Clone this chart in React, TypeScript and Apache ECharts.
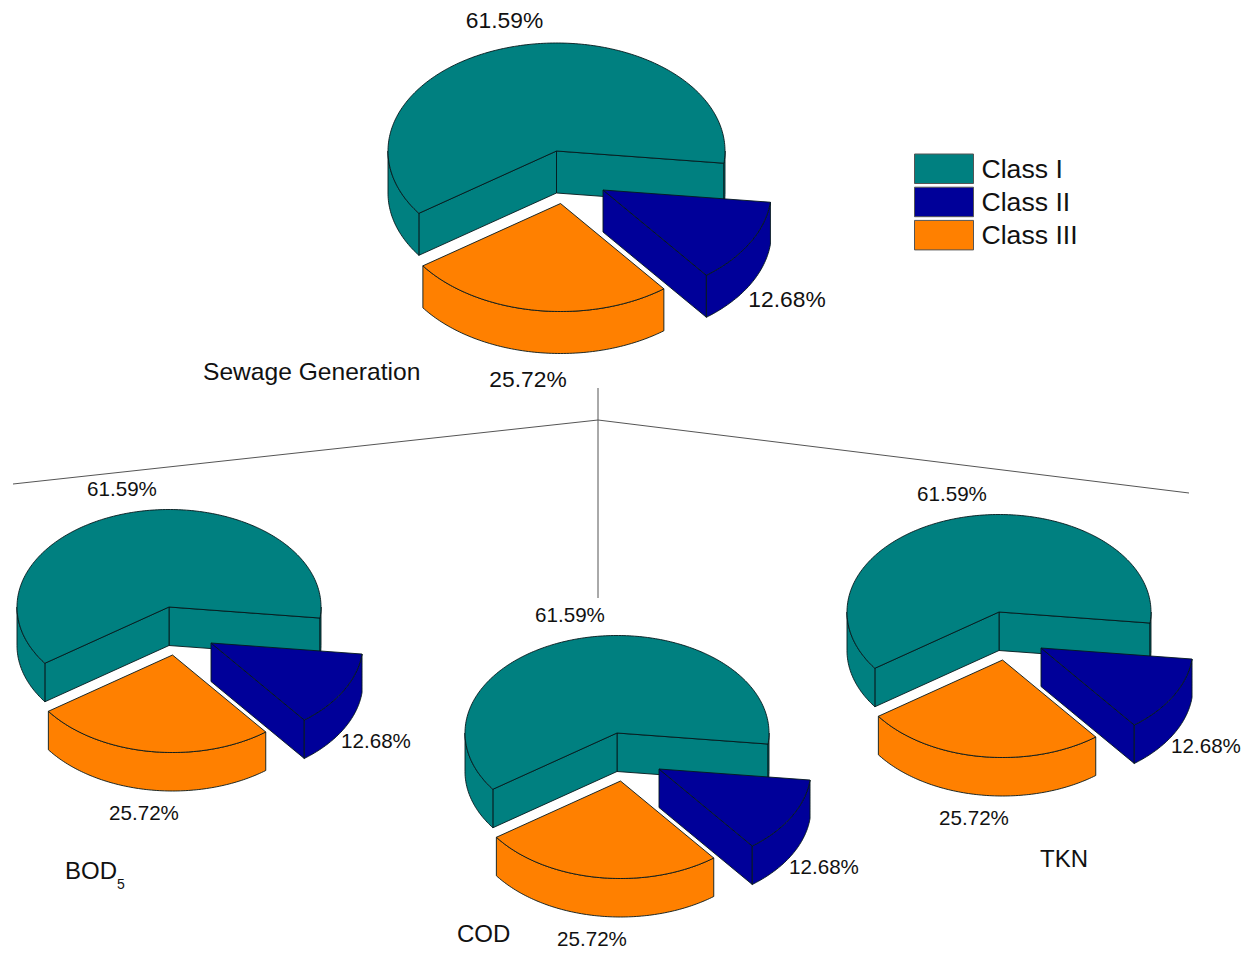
import React, { useEffect, useRef } from "react";
import * as echarts from "echarts";

const pieNames = ["Sewage Generation", "BOD5", "COD", "TKN"];
const classNames = ["Class I", "Class II", "Class III"];
const classIShares = [61.59, 61.59, 61.59, 61.59];
const classIIShares = [12.68, 12.68, 12.68, 12.68];
const classIIIShares = [25.72, 25.72, 25.72, 25.72];
const classColors = ["#008080", "#000099", "#FF8000"];

const FONT = '"Liberation Sans", Arial, sans-serif';
const START_ANGLE = -6.5;

const bigPie = {
  rx: 168.5, ry: 108, depth: 42, font: 22.8,
  explode: { "Class I": [0, 0], "Class II": [46.5, 39], "Class III": [4, 52.5] },
  label: { "Class I": [-52, -131], "Class II": [230.5, 148], "Class III": [-28.5, 228] },
};
const smallPie = {
  rx: 152, ry: 97.5, depth: 38.5, font: 20.6,
  explode: { "Class I": [0, 0], "Class II": [42, 36], "Class III": [3.5, 48] },
  label: { "Class I": [-47, -119], "Class II": [207, 133], "Class III": [-25, 205] },
};
const pieLayouts = [
  { cx: 556.5, cy: 151, ...bigPie },
  { cx: 169, cy: 607, ...smallPie },
  { cx: 617, cy: 733, ...smallPie },
  { cx: 999, cy: 612, ...smallPie },
];

const DEG = Math.PI / 180;

// Counter-clockwise drawing order round the pie, from the start angle.
function sliceAngles(pie: number, cls: string): [number, number] {
  const i = classIShares[pie];
  const ii = classIIShares[pie];
  const iii = classIIIShares[pie];
  const k = 360 / (i + ii + iii);
  const a = START_ANGLE;
  const b = a + i * k;
  const c = b + iii * k;
  const d = c + ii * k;
  if (cls === "Class I") return [a, b];
  if (cls === "Class III") return [b, c];
  return [c, d];
}

function makeRenderItem(cls: string, color: string) {
  return (_params: any, api: any) => {
    const pie = api.value(0);
    const share = api.value(1);
    const L: any = pieLayouts[pie];
    const [a0, a1] = sliceAngles(pie, cls);
    const ox = L.cx + L.explode[cls][0];
    const oy = L.cy + L.explode[cls][1];
    const pt = (deg: number, dz = 0): number[] => [
      ox + L.rx * Math.cos(deg * DEG),
      oy - L.ry * Math.sin(deg * DEG) + dz,
    ];
    const arc = (from: number, to: number, dz = 0): number[][] => {
      const out: number[][] = [];
      const steps = Math.max(2, Math.ceil(Math.abs(to - from)));
      for (let s = 0; s <= steps; s++) out.push(pt(from + ((to - from) * s) / steps, dz));
      return out;
    };
    const style = { fill: color, stroke: "#06181c", lineWidth: 0.9, lineJoin: "round" };
    const children: any[] = [];

    const cutFace = (deg: number) => {
      const p = pt(deg);
      const q = pt(deg, L.depth);
      children.push({
        type: "polygon",
        shape: { points: [[ox, oy], p, q, [ox, oy + L.depth]] },
        style,
      });
    };
    if (Math.cos(a0 * DEG) > 0) cutFace(a0);
    if (Math.cos(a1 * DEG) < 0) cutFace(a1);

    // The outer wall is visible where the rim runs along the lower half.
    for (const [lo, hi] of [[-180, 0], [180, 360]]) {
      const f = Math.max(a0, lo);
      const t = Math.min(a1, hi);
      if (t > f) {
        children.push({
          type: "polygon",
          shape: { points: [...arc(f, t), ...arc(t, f, L.depth)] },
          style,
        });
      }
    }

    children.push({
      type: "polygon",
      shape: { points: [[ox, oy], ...arc(a0, a1)] },
      style,
    });

    children.push({
      type: "text",
      z2: 10,
      style: {
        text: share.toFixed(2) + "%",
        x: L.cx + L.label[cls][0],
        y: L.cy + L.label[cls][1],
        align: "center",
        verticalAlign: "middle",
        fontFamily: FONT,
        fontSize: L.font,
        fill: "#111",
      },
    });
    return { type: "group", children };
  };
}

const rows = (shares: number[]) => shares.map((v, i) => [i, v]);

function buildSeries() {
  const order: [string, number[], string][] = [
    [classNames[0], classIShares, classColors[0]],
    [classNames[2], classIIIShares, classColors[2]],
    [classNames[1], classIIShares, classColors[1]],
  ];
  return order.map(([name, shares, color]) => ({
    type: "custom",
    name,
    coordinateSystem: "none",
    silent: true,
    itemStyle: { color },
    data: rows(shares),
    renderItem: makeRenderItem(name, color),
  }));
}

const connector = "#555";
const titleStyle = { fontFamily: FONT, fontSize: 24, fill: "#111", verticalAlign: "middle" };

export default function App() {
  const ref = useRef<HTMLDivElement>(null);
  useEffect(() => {
    document.body.style.margin = "0";
    const chart = echarts.init(ref.current!, null, { renderer: "svg" });
    chart.setOption({
      animation: false,
      backgroundColor: "#fff",
      legend: {
        data: classNames,
        orient: "vertical",
        left: 914,
        top: 153.5,
        padding: 0,
        icon: "rect",
        itemWidth: 59,
        itemHeight: 29.5,
        itemGap: 2.7,
        selectedMode: false,
        itemStyle: { borderColor: "#555", borderWidth: 1 },
        textStyle: { fontFamily: FONT, fontSize: 26.6, color: "#111", padding: [0, 0, 0, 3] },
      },
      series: buildSeries(),
      graphic: [
        { type: "line", shape: { x1: 598, y1: 388, x2: 598, y2: 598 }, style: { stroke: connector, lineWidth: 1 } },
        { type: "polyline", shape: { points: [[13, 484], [598, 420], [1189, 493]] }, style: { stroke: connector, fill: "none", lineWidth: 1 } },
        { type: "text", x: 203, y: 371, style: { ...titleStyle, fontSize: 24.6, text: pieNames[0] } },
        {
          type: "text",
          x: 65,
          y: 870,
          style: {
            text: "{a|BOD}{b|5}",
            verticalAlign: "middle",
            rich: {
              a: { fontFamily: FONT, fontSize: 24, fill: "#111", lineHeight: 42 },
              b: { fontFamily: FONT, fontSize: 14, fill: "#111", lineHeight: 14, verticalAlign: "bottom" },
            },
          },
        },
        { type: "text", x: 457, y: 933, style: { ...titleStyle, text: pieNames[2] } },
        { type: "text", x: 1040, y: 858, style: { ...titleStyle, text: pieNames[3] } },
      ],
    });
    return () => chart.dispose();
  }, []);
  return <div ref={ref} style={{ position: "absolute", left: 0, top: 0, width: 1252, height: 953 }} />;
}
